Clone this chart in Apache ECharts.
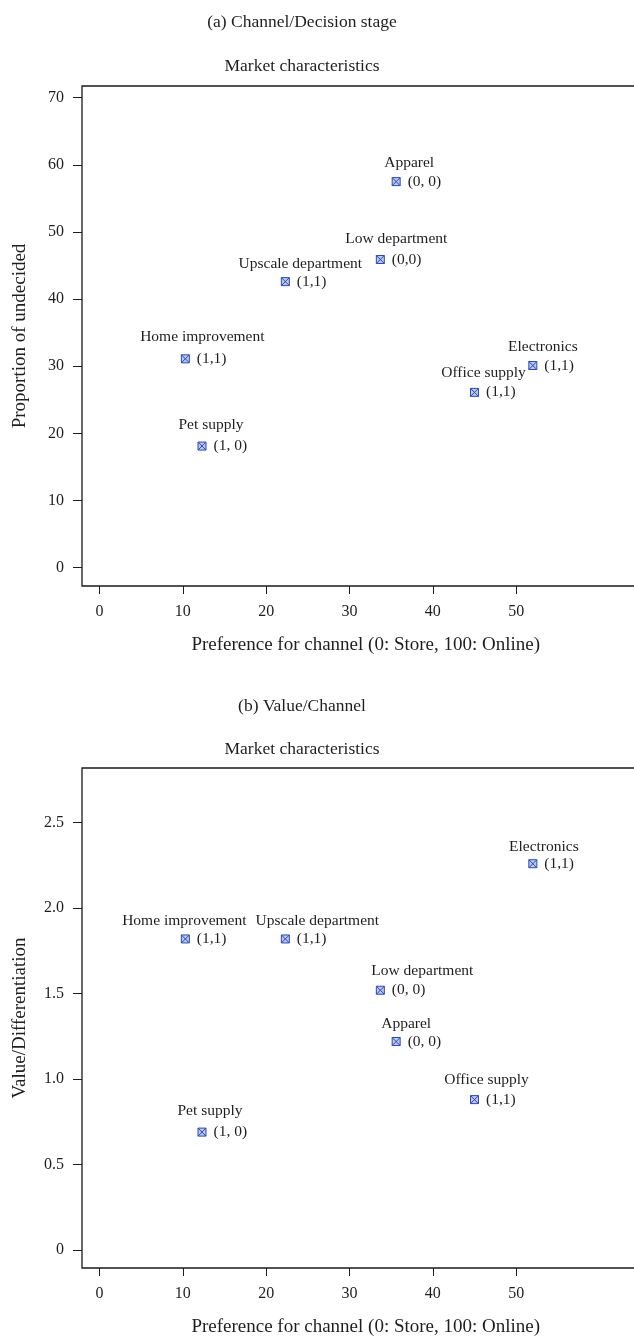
<!DOCTYPE html>
<html lang="en">
  <head>
    <meta charset="utf-8" />
    <title>Market characteristics</title>
    <script src="https://cdn.jsdelivr.net/npm/echarts@6/dist/echarts.min.js"></script>
    <style>
      html, body { margin: 0; padding: 0; background: #fff; }
      #chart { width: 634px; height: 1336px; }
    </style>
  </head>
  <body>
    <div id="chart"></div>
    <script type="text/javascript">
      // data
      var stores = ["Apparel", "Low department", "Upscale department", "Home improvement", "Pet supply", "Electronics", "Office supply"];
      var channelPref = [35.6, 33.7, 22.3, 10.3, 12.3, 52.0, 45.0];
      var undecided = [57.5, 45.9, 42.6, 31.1, 18.1, 30.1, 26.1];
      var valueDiff = [1.22, 1.52, 1.82, 1.82, 0.69, 2.26, 0.88];
      var codesA = ["(0, 0)", "(0,0)", "(1,1)", "(1,1)", "(1, 0)", "(1,1)", "(1,1)"];
      var codesB = ["(0, 0)", "(0, 0)", "(1,1)", "(1,1)", "(1, 0)", "(1,1)", "(1,1)"];
      var xTicks = [0, 10, 20, 30, 40, 50];
      var yTicksA = [0, 10, 20, 30, 40, 50, 60, 70];
      var yTicksB = [0, 0.5, 1.0, 1.5, 2.0, 2.5];

      // where each store name sits relative to its marker (px)
      var nameOffsetA = [[13, -19], [16, -21], [15, -18], [17, -22], [9, -21], [10, -19], [9, -19]];
      var nameOffsetB = [[10, -18], [42, -19], [32, -18], [-1, -18], [8, -21], [11, -17], [12, -20]];

      var font = "Liberation Serif";
      var ink = "#1e1e1e";
      var boxX = "path://M0,0L10,0L10,10L0,10ZM0,0L10,10M10,0L0,10";

      function pts(ys) {
        return channelPref.map(function (x, i) { return [x, ys[i]]; });
      }

      function markerSeries(idx, ys, codes) {
        return {
          type: "scatter",
          xAxisIndex: idx,
          yAxisIndex: idx,
          symbol: boxX,
          symbolSize: 8,
          itemStyle: { color: "#bcc7ee", borderColor: "#2b49b2", borderWidth: 1, opacity: 1 },
          label: {
            show: true,
            position: "right",
            distance: 7,
            fontFamily: font,
            fontSize: 15.5,
            color: ink,
            formatter: function (p) { return codes[p.dataIndex]; }
          },
          data: pts(ys),
          z: 3
        };
      }

      function nameSeries(idx, ys, offs) {
        return {
          type: "scatter",
          xAxisIndex: idx,
          yAxisIndex: idx,
          symbolSize: 2,
          itemStyle: { color: "#ffffff", opacity: 1 },
          silent: true,
          data: pts(ys).map(function (d, i) {
            return {
              value: d,
              label: {
                show: true,
                position: [1 + offs[i][0], 1 + offs[i][1]],
                align: "center",
                verticalAlign: "middle",
                fontFamily: font,
                fontSize: 15.5,
                color: ink,
                textBorderWidth: 0,
                opacity: 1,
                formatter: stores[i]
              }
            };
          }),
          z: 2
        };
      }

      function xAxis(gridIdx) {
        return {
          type: "value",
          gridIndex: gridIdx,
          min: -2.1,
          max: 66,
          name: "Preference for channel (0: Store, 100: Online)",
          nameLocation: "middle",
          nameGap: 50,
          nameMoveOverlap: false,
          nameTextStyle: { fontFamily: font, fontSize: 19, color: ink },
          axisLine: { show: false, onZero: false },
          axisTick: { show: true, length: 8, lineStyle: { color: ink, width: 1 }, customValues: xTicks },
          axisLabel: { fontFamily: font, fontSize: 16, color: ink, margin: 18, customValues: xTicks },
          splitLine: { show: false }
        };
      }

      function yAxis(gridIdx, min, max, ticks, name) {
        return {
          type: "value",
          gridIndex: gridIdx,
          min: min,
          max: max,
          name: name,
          nameLocation: "middle",
          nameGap: 52,
          nameMoveOverlap: false,
          nameTextStyle: { fontFamily: font, fontSize: 19, color: ink },
          axisLine: { show: false, onZero: false },
          axisTick: { show: true, length: 9, lineStyle: { color: ink, width: 1 }, customValues: ticks },
          axisLabel: {
            fontFamily: font,
            fontSize: 16,
            color: ink,
            margin: 18,
            customValues: ticks,
            formatter: function (v) { return gridIdx === 1 && v !== 0 ? v.toFixed(1) : String(v); }
          },
          splitLine: { show: false }
        };
      }

      var titleStyle = { fontFamily: font, fontSize: 17.5, fontWeight: "normal", color: ink };

      // plot frame runs off the right edge of the picture
      var gridBase = { left: 82, width: 567.5, height: 500, outerBoundsMode: "none", containLabel: false, show: true, borderColor: "#1a1a1a", borderWidth: 1.3, backgroundColor: "transparent" };

      var chart = echarts.init(document.getElementById("chart"), null, { renderer: "canvas" });
      chart.setOption({
        animation: false,
        backgroundColor: "#fff",
        title: [
          { text: "(a) Channel/Decision stage", left: 297, top: 8, textAlign: "center", textStyle: titleStyle },
          { text: "Market characteristics", left: 297, top: 52, textAlign: "center", textStyle: titleStyle },
          { text: "(b) Value/Channel", left: 297, top: 692, textAlign: "center", textStyle: titleStyle },
          { text: "Market characteristics", left: 297, top: 735, textAlign: "center", textStyle: titleStyle }
        ],
        grid: [
          Object.assign({ top: 86 }, gridBase),
          Object.assign({ top: 768 }, gridBase)
        ],
        xAxis: [xAxis(0), xAxis(1)],
        yAxis: [
          yAxis(0, -2.75, 71.75, yTicksA, "Proportion of undecided"),
          yAxis(1, -0.105, 2.82, yTicksB, "Value/Differentiation")
        ],
        series: [
          markerSeries(0, undecided, codesA),
          nameSeries(0, undecided, nameOffsetA),
          markerSeries(1, valueDiff, codesB),
          nameSeries(1, valueDiff, nameOffsetB)
        ]
      });
    </script>
  </body>
</html>
